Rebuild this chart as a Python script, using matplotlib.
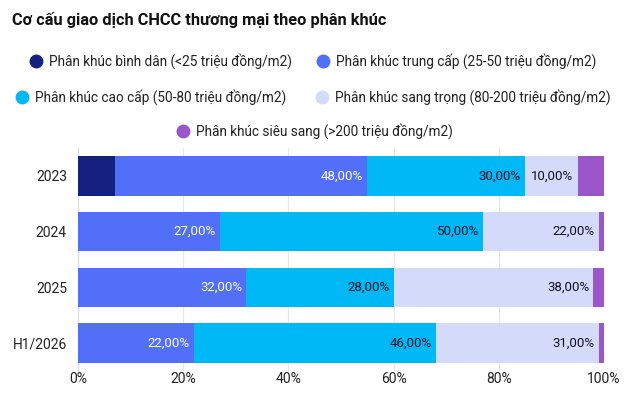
import matplotlib
matplotlib.use("Agg")
import matplotlib.pyplot as plt
from matplotlib.lines import Line2D
import numpy as np

plt.rcParams['font.family'] = ['Roboto', 'DejaVu Sans']

categories = ["2023", "2024", "2025", "H1/2026"]
series_names = [
    "Phân khúc bình dân (<25 triệu đồng/m2)",
    "Phân khúc trung cấp (25-50 triệu đồng/m2)",
    "Phân khúc cao cấp (50-80 triệu đồng/m2)",
    "Phân khúc sang trọng (80-200 triệu đồng/m2)",
    "Phân khúc siêu sang (>200 triệu đồng/m2)",
]
binh_dan = [7, 0, 0, 0]
trung_cap = [48, 27, 32, 22]
cao_cap = [30, 50, 28, 46]
sang_trong = [10, 22, 38, 31]
sieu_sang = [5, 1, 2, 1]
x_ticks = [0, 20, 40, 60, 80, 100]
x_tick_labels = ["0%", "20%", "40%", "60%", "80%", "100%"]

series = [binh_dan, trung_cap, cao_cap, sang_trong, sieu_sang]
colors = ["#14217f", "#526ff7", "#00b8f6", "#d4daf9", "#9b57c9"]
label_colors = ["white", "white", "#111122", "#111122", "#111122"]

W, H = 640, 401
fig = plt.figure(figsize=(W / 100, H / 100), dpi=100)
fig.patch.set_facecolor("white")

ax = fig.add_axes([78 / W, 1 - 371 / H, (604 - 78) / W, (371 - 148) / H])
ypos = np.arange(len(categories))
left = np.zeros(len(categories))
for vals, col, lc in zip(series, colors, label_colors):
    vals = np.array(vals, dtype=float)
    ax.barh(ypos, vals, left=left, height=0.71, color=col, zorder=3)
    for i, v in enumerate(vals):
        if v >= 10:
            ax.annotate(f"{v:.2f}".replace(".", ",") + "%",
                        xy=(left[i] + v, ypos[i]), xytext=(-3, 0),
                        textcoords="offset points", ha="right", va="center",
                        fontsize=9.5, color=lc, zorder=4)
    left += vals

ax.set_xlim(0, 100)
ax.set_ylim(len(categories) - 0.5, -0.5)
ax.set_yticks(ypos)
ax.set_yticklabels(categories, fontsize=10, color="#222222")
ax.set_xticks(x_ticks)
ax.set_xticklabels(x_tick_labels, fontsize=10, color="#222222")
ax.tick_params(axis="both", length=0)
ax.tick_params(axis="x", pad=1)
ax.tick_params(axis="y", pad=8)
ax.xaxis.grid(True, color="#e6e6ea", linewidth=0.8, zorder=0)
for s in ["top", "right", "bottom"]:
    ax.spines[s].set_visible(False)
ax.spines["left"].set_color("#d8d8de")
ax.set_facecolor("none")

fig.text(12 / W, 1 - 20 / H, "Cơ cấu giao dịch CHCC thương mại theo phân khúc",
         fontsize=11.8, fontweight="bold", color="#111111", va="center", ha="left")

legend_pos = [(30, 61), (317, 61), (16, 97), (316, 97), (177, 131)]
for name, col, (px, py) in zip(series_names, colors, legend_pos):
    h = Line2D([], [], marker="o", linestyle="none", markersize=9,
               markerfacecolor=col, markeredgecolor=col)
    fig.legend([h], [name], loc="center left", bbox_to_anchor=(px / W, 1 - py / H),
               frameon=False, borderpad=0, borderaxespad=0, handlelength=0.9,
               handletextpad=0.5, fontsize=9.8, labelcolor="#222222")

fig.savefig("out.png", dpi=100)
